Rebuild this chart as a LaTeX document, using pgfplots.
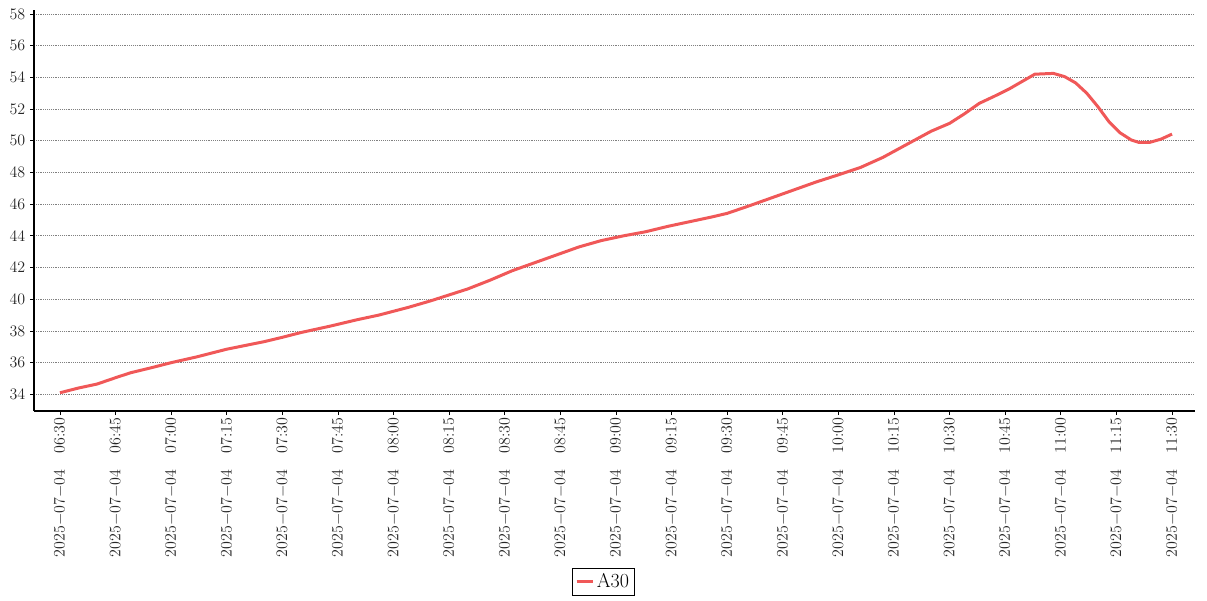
\documentclass[border=0pt]{standalone}
\usepackage{pgfplots}
\pgfplotsset{compat=1.18}
\definecolor{linered}{RGB}{240,88,88}
\newcommand{\dl}[1]{2025$-$07$-$04\hspace{12pt}#1}
\begin{document}
\begin{tikzpicture}
\useasboundingbox (-25.5pt,-141.75pt) rectangle (879.75pt,308.25pt);
\begin{axis}[
  scale only axis,
  width=870.75pt, height=300.75pt,
  at={(0pt,0pt)}, anchor=south west,
  xmin=-7, xmax=306.2,
  ymin=32.95, ymax=58.25,
  axis x line*=bottom, axis y line*=left,
  axis line style={-, line width=1.2pt, black},
  ytick={34,36,...,58},
  xtick={0,15,...,300},
  xticklabels={
    \dl{06:30}, \dl{06:45}, \dl{07:00}, \dl{07:15}, \dl{07:30}, \dl{07:45},
    \dl{08:00}, \dl{08:15}, \dl{08:30}, \dl{08:45}, \dl{09:00}, \dl{09:15},
    \dl{09:30}, \dl{09:45}, \dl{10:00}, \dl{10:15}, \dl{10:30}, \dl{10:45},
    \dl{11:00}, \dl{11:15}, \dl{11:30}},
  xticklabel style={rotate=90, anchor=east, inner sep=2pt, font=\fontsize{12}{14}\selectfont, text=black!85},
  yticklabel style={font=\fontsize{13}{15}\selectfont, text=black!85},
  tick align=outside,
  major tick length=3pt,
  tick style={black, line width=0.6pt},
  ymajorgrids,
  major grid style={gray, densely dotted, line width=0.6pt},
  legend style={at={(0.4905,-0.3915)}, anchor=north, draw=black, line width=0.6pt,
    font=\fontsize{15}{18}\selectfont, inner sep=2pt},
  legend image code/.code={\draw[#1, line width=2.25pt] (0pt,0pt) -- (12pt,0pt);},
]
\addplot[color=linered, line width=2.25pt] coordinates {
(0,34.1) (5,34.4) (10,34.65) (15,35.05) (19,35.36) (25,35.7) (30,36.0)
(37,36.37) (45,36.85) (55,37.32) (60,37.6) (65,37.9) (73,38.31) (80,38.7)
(86,39.0) (94,39.49) (100,39.9) (104,40.2) (110,40.65) (116,41.2) (122,41.8)
(128,42.3) (134,42.8) (140,43.3) (146,43.7) (152,44.0) (158,44.26) (164,44.6)
(170,44.9) (176,45.2) (180,45.42) (186,45.9) (192,46.4) (198,46.9) (204,47.4)
(210,47.85) (216,48.32) (222,48.95) (229,49.84) (235,50.6) (240,51.1) (244,51.7)
(248,52.36) (252,52.8) (256,53.26) (260,53.8) (263,54.2) (268,54.25) (271,54.05)
(274,53.65) (277,53.0) (280,52.15) (283,51.2) (286,50.5) (289,50.05) (291,49.9)
(294,49.9) (297,50.1) (300,50.42)
};
\addlegendentry{A30}
\end{axis}
\end{tikzpicture}
\end{document}
